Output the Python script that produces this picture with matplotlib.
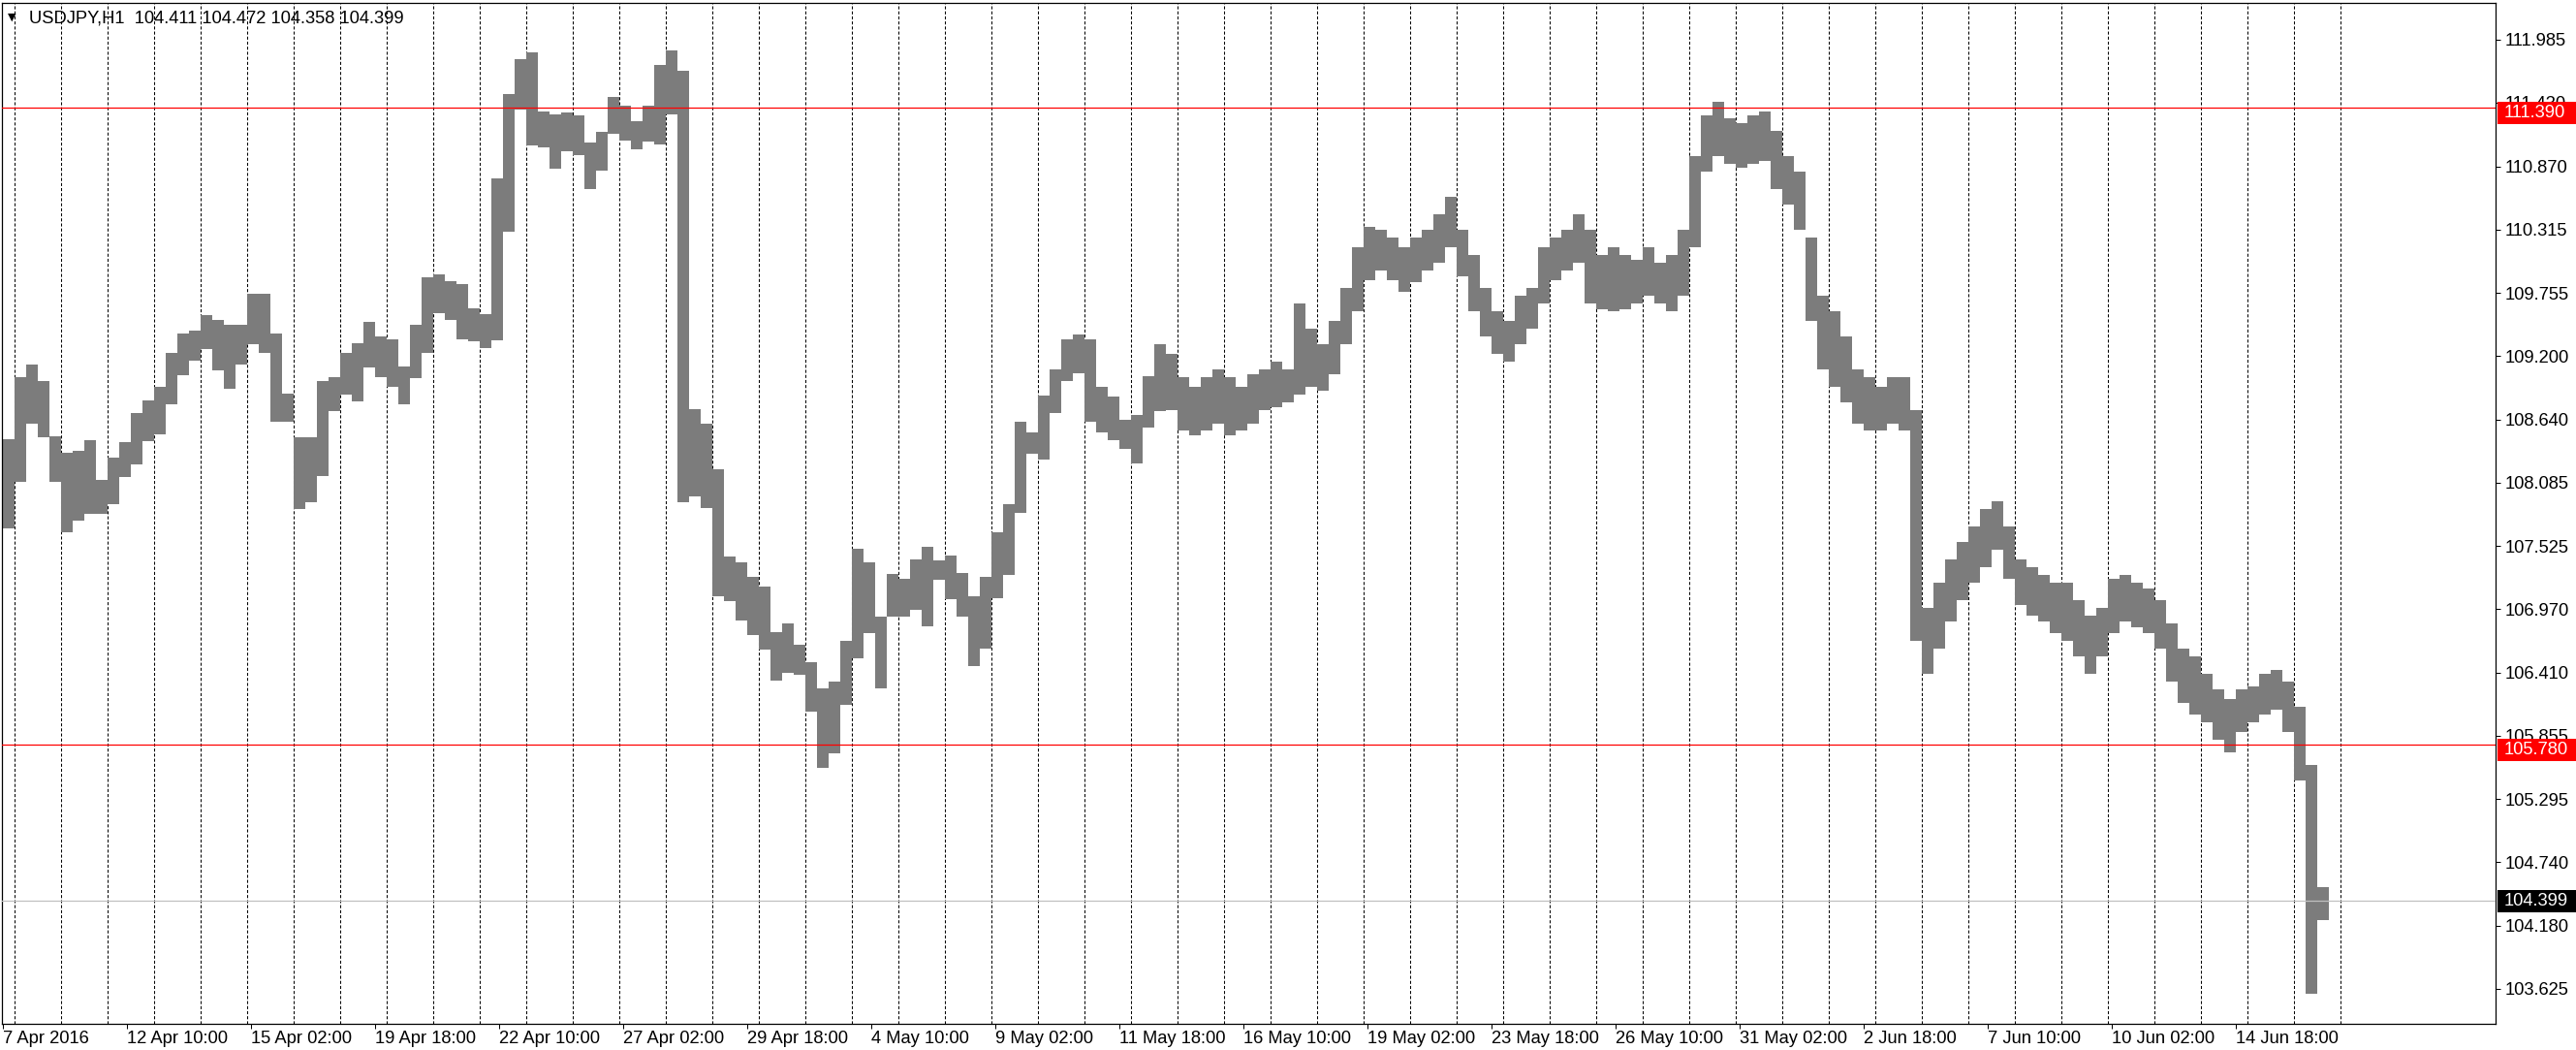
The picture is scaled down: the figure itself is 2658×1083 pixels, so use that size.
import matplotlib
matplotlib.use('Agg')
import matplotlib.pyplot as plt
import matplotlib.transforms as mtransforms
from matplotlib.patches import Rectangle
import numpy as np

plt.rcParams['font.family'] = ['Liberation Sans', 'DejaVu Sans']

# chart header
symbol = 'USDJPY,H1'
last_ohlc = [104.411, 104.472, 104.358, 104.399]

# H1 bars grouped in 6 hour blocks, first block starts 7 Apr 2016 18:00
hours_per_block = 6
block_high = [
    108.47, 109.01, 109.12, 108.98, 108.49, 108.35, 108.36, 108.46, 108.11, 108.30,
    108.44, 108.70, 108.81, 108.93, 109.23, 109.40, 109.42, 109.56, 109.52, 109.47,
    109.47, 109.75, 109.75, 109.40, 108.87, 108.48, 108.48, 108.98, 109.01, 109.23,
    109.31, 109.50, 109.37, 109.35, 109.11, 109.47, 109.89, 109.92, 109.86, 109.83,
    109.62, 109.57, 110.76, 111.51, 111.81, 111.87, 111.35, 111.33, 111.34, 111.32,
    111.08, 111.17, 111.48, 111.40, 111.27, 111.40, 111.76, 111.89, 111.71, 108.73,
    108.60, 108.20, 107.43, 107.38, 107.25, 107.17, 106.77, 106.84, 106.66, 106.50,
    106.27, 106.33, 106.69, 107.50, 107.38, 106.90, 107.28, 107.24, 107.41, 107.52,
    107.40, 107.44, 107.29, 107.08, 107.25, 107.65, 107.89, 108.62, 108.53, 108.85,
    109.08, 109.35, 109.39, 109.35, 108.93, 108.84, 108.64, 108.68, 109.02, 109.30,
    109.22, 109.01, 108.93, 109.01, 109.08, 109.01, 108.93, 109.04, 109.08, 109.15,
    109.08, 109.66, 109.44, 109.30, 109.51, 109.80, 110.16, 110.34, 110.31, 110.24,
    110.16, 110.24, 110.31, 110.45, 110.60, 110.31, 110.09, 109.80, 109.59, 109.51,
    109.73, 109.80, 110.16, 110.24, 110.31, 110.45, 110.31, 110.09, 110.16, 110.09,
    110.05, 110.16, 110.02, 110.09, 110.31, 110.96, 111.32, 111.44, 111.29, 111.25,
    111.32, 111.35, 111.18, 110.96, 110.82, 110.24, 109.73, 109.59, 109.37, 109.08,
    109.01, 108.93, 109.01, 109.01, 108.72, 106.98, 107.20, 107.41, 107.56, 107.70,
    107.85, 107.92, 107.70, 107.41, 107.34, 107.27, 107.20, 107.20, 107.05, 106.91,
    106.98, 107.24, 107.27, 107.20, 107.15, 107.05, 106.84, 106.62, 106.55, 106.40,
    106.26, 106.18, 106.26, 106.29, 106.40, 106.43, 106.33, 106.11, 105.60, 104.52,
]
block_low = [
    107.68, 108.09, 108.60, 108.48, 108.09, 107.65, 107.75, 107.81, 107.81, 107.89,
    108.13, 108.24, 108.45, 108.51, 108.77, 109.03, 109.16, 109.26, 109.07, 108.91,
    109.12, 109.30, 109.23, 108.62, 108.62, 107.85, 107.91, 108.14, 108.71, 108.86,
    108.80, 109.10, 109.01, 108.93, 108.77, 109.00, 109.23, 109.58, 109.52, 109.35,
    109.33, 109.27, 109.34, 110.29, 111.37, 111.05, 111.04, 110.85, 111.00, 110.97,
    110.67, 110.83, 111.16, 111.10, 111.02, 111.09, 111.06, 111.33, 107.91, 107.96,
    107.86, 107.08, 107.04, 106.87, 106.74, 106.61, 106.34, 106.41, 106.39, 106.07,
    105.57, 105.70, 106.13, 106.54, 106.76, 106.27, 106.90, 106.90, 106.96, 106.82,
    107.23, 107.06, 106.90, 106.47, 106.62, 107.07, 107.27, 107.82, 108.34, 108.29,
    108.70, 108.98, 109.05, 108.62, 108.53, 108.46, 108.38, 108.25, 108.57, 108.71,
    108.72, 108.54, 108.50, 108.54, 108.60, 108.50, 108.54, 108.60, 108.72, 108.75,
    108.79, 108.86, 108.93, 108.89, 109.04, 109.30, 109.59, 109.87, 109.95, 109.87,
    109.76, 109.85, 109.95, 110.02, 110.16, 109.90, 109.59, 109.37, 109.22, 109.15,
    109.30, 109.44, 109.66, 109.87, 109.95, 110.02, 109.66, 109.61, 109.59, 109.61,
    109.66, 109.73, 109.66, 109.59, 109.73, 110.16, 110.82, 110.96, 110.89, 110.86,
    110.89, 110.92, 110.67, 110.53, 110.31, 109.51, 109.08, 108.93, 108.79, 108.60,
    108.54, 108.54, 108.60, 108.54, 106.69, 106.40, 106.62, 106.86, 107.05, 107.20,
    107.34, 107.49, 107.24, 107.01, 106.91, 106.86, 106.76, 106.69, 106.55, 106.40,
    106.55, 106.76, 106.86, 106.81, 106.76, 106.62, 106.33, 106.14, 106.04, 105.97,
    105.82, 105.71, 105.89, 105.97, 106.04, 106.08, 105.89, 105.46, 103.58, 104.23,
]

# time axis: one label every 64 bars, a dotted line at every midnight
time_labels = ['7 Apr 2016', '12 Apr 10:00', '15 Apr 02:00', '19 Apr 18:00',
               '22 Apr 10:00', '27 Apr 02:00', '29 Apr 18:00', '4 May 10:00',
               '9 May 02:00', '11 May 18:00', '16 May 10:00', '19 May 02:00',
               '23 May 18:00', '26 May 10:00', '31 May 02:00', '2 Jun 18:00',
               '7 Jun 10:00', '10 Jun 02:00', '14 Jun 18:00']
bars_per_label = 64
first_midnight = 6
bars_per_day = 24
n_midnights = 51

price_ticks = [111.985, 111.430, 110.870, 110.315, 109.755, 109.200, 108.640,
               108.085, 107.525, 106.970, 106.410, 105.855, 105.295, 104.740,
               104.180, 103.625]
red_levels = [111.390, 105.780]
last_price = 104.399

W, H = 2658, 1083
fig = plt.figure(figsize=(W / 100, H / 100), dpi=100)
ax = fig.add_axes([2 / W, 27 / H, 2573 / W, 1053 / H])
ax.set_xlim(-0.5, 1286)
ax.set_ylim(103.317, 112.309)

hi = np.array(block_high)
lo = np.array(block_low)
xb = np.arange(len(hi)) * hours_per_block + hours_per_block / 2
ax.bar(xb, hi - lo, bottom=lo, width=hours_per_block, color='#7c7c7c',
       linewidth=0, zorder=2)

for k in range(n_midnights):
    ax.axvline(first_midnight + k * bars_per_day, color='black', lw=0.75,
               ls=(0, (3, 2)), zorder=1)

for lvl in red_levels:
    ax.axhline(lvl, color='#ff0000', lw=0.9, zorder=3)
ax.axhline(last_price, color='#c0c0c0', lw=0.9, zorder=3)

ax.set_xticks([k * bars_per_label for k in range(len(time_labels))])
ax.set_xticklabels(time_labels)
for lbl in ax.get_xticklabels():
    lbl.set_ha('left')
ax.tick_params(axis='x', direction='out', length=3.5, width=0.75, pad=1.5,
               labelsize=13.2, colors='black')

ax.yaxis.tick_right()
ax.set_yticks(price_ticks)
ax.set_yticklabels(['%.3f' % v for v in price_ticks])
ax.tick_params(axis='y', direction='out', length=3.5, width=0.75, pad=3.5,
               labelsize=13.2, colors='black')

for s in ax.spines.values():
    s.set_linewidth(0.9)
    s.set_color('black')

# price labels on the right scale (they cover part of the nearby tick label)
trans = mtransforms.blended_transform_factory(fig.transFigure, ax.transData)
ppx = (112.309 - 103.317) / 1053
for lvl in red_levels:
    fig.add_artist(Rectangle((2577 / W, lvl - 17 * ppx), 1 - 2577 / W, 23 * ppx,
                             transform=trans, color='#ff0000', lw=0, zorder=5))
    fig.text(2584 / W, lvl - 5.5 * ppx, '%.3f' % lvl, transform=trans,
             color='white', fontsize=13.2, va='center', ha='left', zorder=6)
fig.add_artist(Rectangle((2577 / W, last_price - 11.5 * ppx), 1 - 2577 / W,
                         23 * ppx, transform=trans, color='black', lw=0,
                         zorder=5))
fig.text(2584 / W, last_price, '%.3f' % last_price, transform=trans,
         color='white', fontsize=13.2, va='center', ha='left', zorder=6)

# header
fig.text(12.5 / W, 1 - 17.5 / H, '\u25bc', family='DejaVu Sans', fontsize=8,
         ha='center', va='center')
fig.text(30 / W, 1 - 19 / H,
         symbol + '  ' + ' '.join('%.3f' % v for v in last_ohlc),
         fontsize=13.2, ha='left', va='center')

fig.savefig('out.png', dpi=100, facecolor='white')
